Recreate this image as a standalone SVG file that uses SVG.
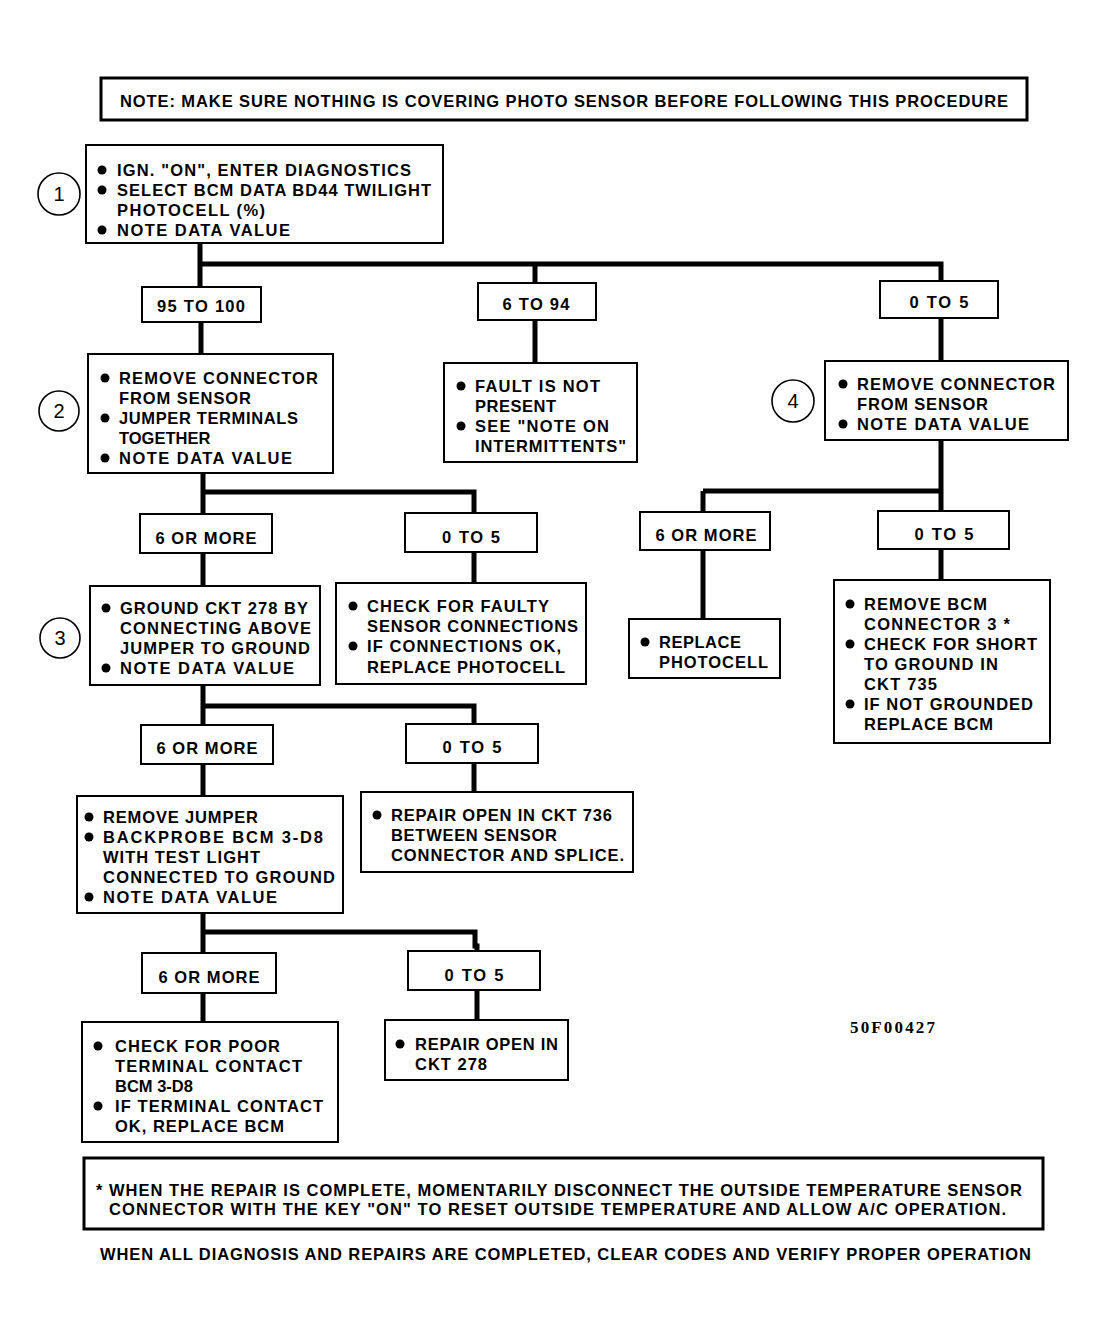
<svg xmlns="http://www.w3.org/2000/svg" width="1107" height="1339" viewBox="0 0 1107 1339">
<style>
.bx{fill:#fff;stroke:#000;stroke-width:2}
.nb{fill:#fff;stroke:#000;stroke-width:3}
.t{font-family:"Liberation Sans",Arial,sans-serif;font-weight:bold;font-size:16.5px;fill:#000}
.c{text-anchor:middle}
.cn{font-family:"Liberation Sans",Arial,sans-serif;font-size:20px;fill:#000;text-anchor:middle}
.cir{fill:#fff;stroke:#000;stroke-width:1.6}
.b{fill:#000}
.ln{fill:none;stroke:#000;stroke-width:5}
</style>
<rect width="1107" height="1339" fill="#fff"/>
<g id="connectors">
<path class="ln" d="M200,243V287 M200,264H941V281 M535,264V283 M201,322V354 M535,320V363 M941,318V361 M941,440V511 M703,491H941 M703,491V512 M703,550V619 M941,549V580 M203,473V514 M203,492H474V513 M203,553V586 M474,552V583 M203,685V725 M203,706H474V724 M203,764V796 M474,763V792 M203,913V953 M203,932H475V946H477V951 M203,993V1022 M477,990V1020"/>
</g>
<g id="note-top">
<rect class="nb" x="101" y="78" width="926" height="42"/>
<text class="t" x="120" y="107" font-size="16" textLength="888" lengthAdjust="spacing">NOTE: MAKE SURE NOTHING IS COVERING PHOTO SENSOR BEFORE FOLLOWING THIS PROCEDURE</text>
</g>
<g id="step1">
<circle class="cir" cx="59" cy="194" r="21"/><text class="cn" x="59" y="201">1</text>
<rect class="bx" x="86" y="145" width="357" height="98"/>
<circle class="b" cx="102" cy="170" r="4.5"/><text class="t" x="117" y="176" textLength="294" lengthAdjust="spacing">IGN. "ON", ENTER DIAGNOSTICS</text>
<circle class="b" cx="102" cy="190" r="4.5"/><text class="t" x="117" y="196" textLength="314" lengthAdjust="spacing">SELECT BCM DATA BD44 TWILIGHT</text>
<text class="t" x="117" y="216" textLength="148" lengthAdjust="spacing">PHOTOCELL (%)</text>
<circle class="b" cx="102" cy="230" r="4.5"/><text class="t" x="117" y="236" textLength="173" lengthAdjust="spacing">NOTE DATA VALUE</text>
</g>
<g id="r95">
<rect class="bx" x="142" y="287" width="119" height="35"/>
<text class="t c" x="201" y="312" textLength="88" lengthAdjust="spacing">95 TO 100</text>
</g>
<g id="r6to94">
<rect class="bx" x="478" y="283" width="118" height="37"/>
<text class="t c" x="536" y="310" textLength="67" lengthAdjust="spacing">6 TO 94</text>
</g>
<g id="r0to5a">
<rect class="bx" x="880" y="281" width="118" height="37"/>
<text class="t c" x="939" y="308" textLength="59" lengthAdjust="spacing">0 TO 5</text>
</g>
<g id="step2">
<circle class="cir" cx="59" cy="411" r="20"/><text class="cn" x="59" y="418">2</text>
<rect class="bx" x="88" y="354" width="245" height="119"/>
<circle class="b" cx="105" cy="378" r="4.5"/><text class="t" x="119" y="384" textLength="199" lengthAdjust="spacing">REMOVE CONNECTOR</text>
<text class="t" x="119" y="404" textLength="132" lengthAdjust="spacing">FROM SENSOR</text>
<circle class="b" cx="105" cy="418" r="4.5"/><text class="t" x="119" y="424" textLength="179" lengthAdjust="spacing">JUMPER TERMINALS</text>
<text class="t" x="119" y="444">TOGETHER</text>
<circle class="b" cx="105" cy="458" r="4.5"/><text class="t" x="119" y="464" textLength="173" lengthAdjust="spacing">NOTE DATA VALUE</text>
</g>
<g id="fault">
<rect class="bx" x="444" y="363" width="193" height="99"/>
<circle class="b" cx="461" cy="386" r="4.5"/><text class="t" x="475" y="392" textLength="125" lengthAdjust="spacing">FAULT IS NOT</text>
<text class="t" x="475" y="412" textLength="81" lengthAdjust="spacing">PRESENT</text>
<circle class="b" cx="461" cy="426" r="4.5"/><text class="t" x="475" y="432" textLength="134" lengthAdjust="spacing">SEE "NOTE ON</text>
<text class="t" x="475" y="452" textLength="151" lengthAdjust="spacing">INTERMITTENTS"</text>
</g>
<g id="step4">
<circle class="cir" cx="793" cy="401" r="21"/><text class="cn" x="793" y="408">4</text>
<rect class="bx" x="825" y="361" width="243" height="79"/>
<circle class="b" cx="843" cy="384" r="4.5"/><text class="t" x="857" y="390" textLength="198" lengthAdjust="spacing">REMOVE CONNECTOR</text>
<text class="t" x="857" y="410" textLength="131" lengthAdjust="spacing">FROM SENSOR</text>
<circle class="b" cx="843" cy="424" r="4.5"/><text class="t" x="857" y="430" textLength="172" lengthAdjust="spacing">NOTE DATA VALUE</text>
</g>
<g id="r4more">
<rect class="bx" x="640" y="512" width="130" height="38"/>
<text class="t c" x="706" y="541" textLength="101" lengthAdjust="spacing">6 OR MORE</text>
</g>
<g id="r4zero">
<rect class="bx" x="878" y="511" width="131" height="38"/>
<text class="t c" x="944" y="540" textLength="59" lengthAdjust="spacing">0 TO 5</text>
</g>
<g id="replace-photocell">
<rect class="bx" x="629" y="619" width="151" height="59"/>
<circle class="b" cx="645" cy="642" r="4.5"/><text class="t" x="659" y="648" textLength="82" lengthAdjust="spacing">REPLACE</text>
<text class="t" x="659" y="668" textLength="109" lengthAdjust="spacing">PHOTOCELL</text>
</g>
<g id="remove-bcm">
<rect class="bx" x="834" y="580" width="216" height="163"/>
<circle class="b" cx="850" cy="604" r="4.5"/><text class="t" x="864" y="610" textLength="123" lengthAdjust="spacing">REMOVE BCM</text>
<text class="t" x="864" y="630" textLength="146" lengthAdjust="spacing">CONNECTOR 3 *</text>
<circle class="b" cx="850" cy="644" r="4.5"/><text class="t" x="864" y="650" textLength="173" lengthAdjust="spacing">CHECK FOR SHORT</text>
<text class="t" x="864" y="670" textLength="134" lengthAdjust="spacing">TO GROUND IN</text>
<text class="t" x="864" y="690" textLength="73" lengthAdjust="spacing">CKT 735</text>
<circle class="b" cx="850" cy="704" r="4.5"/><text class="t" x="864" y="710" textLength="169" lengthAdjust="spacing">IF NOT GROUNDED</text>
<text class="t" x="864" y="730" textLength="129" lengthAdjust="spacing">REPLACE BCM</text>
</g>
<g id="r2more">
<rect class="bx" x="140" y="514" width="132" height="39"/>
<text class="t c" x="206" y="544" textLength="101" lengthAdjust="spacing">6 OR MORE</text>
</g>
<g id="r2zero">
<rect class="bx" x="405" y="513" width="132" height="39"/>
<text class="t c" x="471" y="543" textLength="58" lengthAdjust="spacing">0 TO 5</text>
</g>
<g id="step3">
<circle class="cir" cx="60" cy="638" r="20"/><text class="cn" x="60" y="645">3</text>
<rect class="bx" x="90" y="586" width="230" height="99"/>
<circle class="b" cx="106" cy="608" r="4.5"/><text class="t" x="120" y="614" textLength="188" lengthAdjust="spacing">GROUND CKT 278 BY</text>
<text class="t" x="120" y="634" textLength="191" lengthAdjust="spacing">CONNECTING ABOVE</text>
<text class="t" x="120" y="654" textLength="190" lengthAdjust="spacing">JUMPER TO GROUND</text>
<circle class="b" cx="106" cy="668" r="4.5"/><text class="t" x="120" y="674" textLength="174" lengthAdjust="spacing">NOTE DATA VALUE</text>
</g>
<g id="faulty-conn">
<rect class="bx" x="336" y="583" width="250" height="101"/>
<circle class="b" cx="353" cy="606" r="4.5"/><text class="t" x="367" y="612" textLength="182" lengthAdjust="spacing">CHECK FOR FAULTY</text>
<text class="t" x="367" y="632" textLength="211" lengthAdjust="spacing">SENSOR CONNECTIONS</text>
<circle class="b" cx="353" cy="646" r="4.5"/><text class="t" x="367" y="652" textLength="194" lengthAdjust="spacing">IF CONNECTIONS OK,</text>
<text class="t" x="367" y="673" textLength="198" lengthAdjust="spacing">REPLACE PHOTOCELL</text>
</g>
<g id="r3more">
<rect class="bx" x="141" y="725" width="132" height="39"/>
<text class="t c" x="207" y="754" textLength="101" lengthAdjust="spacing">6 OR MORE</text>
</g>
<g id="r3zero">
<rect class="bx" x="406" y="724" width="132" height="39"/>
<text class="t c" x="472" y="753" textLength="59" lengthAdjust="spacing">0 TO 5</text>
</g>
<g id="step5">
<rect class="bx" x="77" y="796" width="266" height="117"/>
<circle class="b" cx="89" cy="817" r="4.5"/><text class="t" x="103" y="823" textLength="155" lengthAdjust="spacing">REMOVE JUMPER</text>
<circle class="b" cx="89" cy="837" r="4.5"/><text class="t" x="103" y="843" textLength="220" lengthAdjust="spacing">BACKPROBE BCM 3-D8</text>
<text class="t" x="103" y="863" textLength="157" lengthAdjust="spacing">WITH TEST LIGHT</text>
<text class="t" x="103" y="883" textLength="232" lengthAdjust="spacing">CONNECTED TO GROUND</text>
<circle class="b" cx="89" cy="897" r="4.5"/><text class="t" x="103" y="903" textLength="174" lengthAdjust="spacing">NOTE DATA VALUE</text>
</g>
<g id="repair736">
<rect class="bx" x="361" y="792" width="272" height="80"/>
<circle class="b" cx="377" cy="815" r="4.5"/><text class="t" x="391" y="821" textLength="221" lengthAdjust="spacing">REPAIR OPEN IN CKT 736</text>
<text class="t" x="391" y="841" textLength="166" lengthAdjust="spacing">BETWEEN SENSOR</text>
<text class="t" x="391" y="861" textLength="233" lengthAdjust="spacing">CONNECTOR AND SPLICE.</text>
</g>
<g id="r5more">
<rect class="bx" x="142" y="953" width="134" height="40"/>
<text class="t c" x="209" y="983" textLength="101" lengthAdjust="spacing">6 OR MORE</text>
</g>
<g id="r5zero">
<rect class="bx" x="408" y="951" width="132" height="39"/>
<text class="t c" x="474" y="981" textLength="59" lengthAdjust="spacing">0 TO 5</text>
</g>
<g id="poor-contact">
<rect class="bx" x="82" y="1022" width="256" height="120"/>
<circle class="b" cx="98" cy="1046" r="4.5"/><text class="t" x="115" y="1052" textLength="165" lengthAdjust="spacing">CHECK FOR POOR</text>
<text class="t" x="115" y="1072" textLength="187" lengthAdjust="spacing">TERMINAL CONTACT</text>
<text class="t" x="115" y="1092">BCM 3-D8</text>
<circle class="b" cx="98" cy="1106" r="4.5"/><text class="t" x="115" y="1112" textLength="208" lengthAdjust="spacing">IF TERMINAL CONTACT</text>
<text class="t" x="115" y="1132" textLength="169" lengthAdjust="spacing">OK, REPLACE BCM</text>
</g>
<g id="repair278">
<rect class="bx" x="385" y="1020" width="183" height="60"/>
<circle class="b" cx="400" cy="1044" r="4.5"/><text class="t" x="415" y="1050" textLength="143" lengthAdjust="spacing">REPAIR OPEN IN</text>
<text class="t" x="415" y="1070" textLength="72" lengthAdjust="spacing">CKT 278</text>
</g>
<text x="850" y="1033" font-family="'Liberation Serif','Times New Roman',serif" font-weight="bold" font-size="17" textLength="85" lengthAdjust="spacing">50F00427</text>
<g id="note-bottom">
<rect class="nb" x="84" y="1158" width="959" height="71"/>
<text class="t" x="96" y="1196" font-size="16" textLength="926" lengthAdjust="spacing">* WHEN THE REPAIR IS COMPLETE, MOMENTARILY DISCONNECT THE OUTSIDE TEMPERATURE SENSOR</text>
<text class="t" x="109" y="1215" font-size="16" textLength="897" lengthAdjust="spacing">CONNECTOR WITH THE KEY "ON" TO RESET OUTSIDE TEMPERATURE AND ALLOW A/C OPERATION.</text>
</g>
<text class="t" x="100" y="1260" font-size="16" textLength="931" lengthAdjust="spacing">WHEN ALL DIAGNOSIS AND REPAIRS ARE COMPLETED, CLEAR CODES AND VERIFY PROPER OPERATION</text>
</svg>
